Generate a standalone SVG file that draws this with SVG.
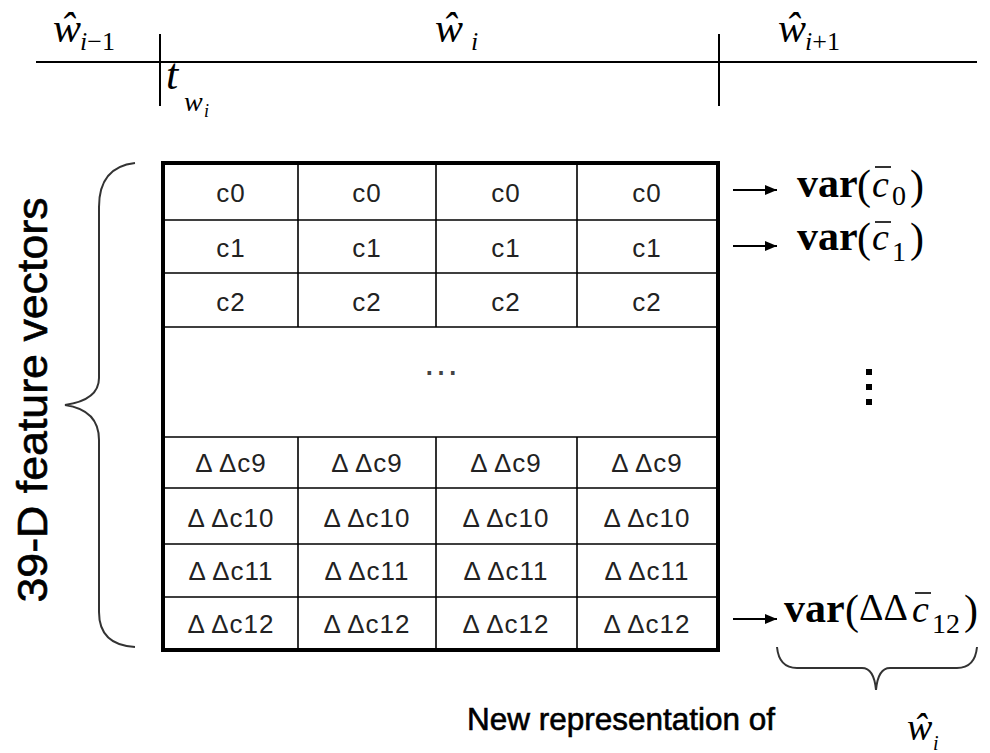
<svg xmlns="http://www.w3.org/2000/svg" width="990" height="753" viewBox="0 0 990 753">
<defs>
<marker id="ah" viewBox="0 0 12 10" refX="12" refY="5" markerWidth="12" markerHeight="10" markerUnits="userSpaceOnUse" orient="auto">
<path d="M0,0 L12,5 L0,10 Z" fill="#000"/>
</marker>
<style>
.ln{stroke:#000;stroke-width:2;fill:none}
.grid{stroke:#000;stroke-width:1.6;fill:none}
.brace{stroke:#333;stroke-width:2;fill:none}
.cell{font-family:"Liberation Sans",Arial,sans-serif;font-size:26px;text-anchor:middle;fill:#222;letter-spacing:1px}
.mi{font-family:"Liberation Serif","Times New Roman",serif;font-style:italic;fill:#000}
.mr{font-family:"Liberation Serif","Times New Roman",serif;fill:#000}
.mb{font-family:"Liberation Serif","Times New Roman",serif;font-weight:bold;fill:#000}
.lab{font-family:"Liberation Sans",Arial,sans-serif;fill:#000;stroke:#000;stroke-width:0.6}
</style>
</defs>
<rect width="990" height="753" fill="#fff"/>

<g id="timeline">
<line class="ln" x1="36" y1="62" x2="977" y2="62"/>
<line class="ln" x1="160" y1="34" x2="160" y2="106"/>
<line class="ln" x1="719" y1="34" x2="719" y2="106"/>
</g>

<g id="label-w-prev">
<text class="mi" x="53" y="42" font-size="42">ŵ</text>
<text x="80" y="50" font-size="26"><tspan class="mi">i</tspan><tspan class="mr">−1</tspan></text>
</g>
<g id="label-w-cur">
<text class="mi" x="435" y="42" font-size="42">ŵ</text>
<text class="mi" x="471" y="50" font-size="26">i</text>
</g>
<g id="label-w-next">
<text class="mi" x="778" y="42" font-size="42">ŵ</text>
<text x="805" y="50" font-size="26"><tspan class="mi">i</tspan><tspan class="mr">+1</tspan></text>
</g>
<g id="label-t">
<text class="mi" x="166" y="89" font-size="44">t</text>
<text class="mi" x="184" y="111" font-size="28">w</text>
<text class="mi" x="204" y="117" font-size="18">i</text>
</g>

<g id="feature-label">
<path class="brace" d="M135,163 Q99,167 99,207 L99,378 Q99,400 65,405 Q99,410 99,440 L99,612 Q99,645 135,647"/>
<text class="lab" font-size="42" text-anchor="middle" textLength="405" lengthAdjust="spacingAndGlyphs" transform="translate(47,400) rotate(-90)">39-D feature vectors</text>
</g>

<g id="table">
<rect x="163" y="163" width="555" height="487" fill="#fff" stroke="#000" stroke-width="4"/>
<path class="grid" d="M163,220H718M163,273H718M163,327H718M163,437H718M163,488H718M163,544H718M163,597H718"/>
<path class="grid" d="M298,163V327M436,163V327M577,163V327M298,437V650M436,437V650M577,437V650"/>
<text class="cell" x="231" y="202">c0</text><text class="cell" x="367" y="202">c0</text><text class="cell" x="506" y="202">c0</text><text class="cell" x="647" y="202">c0</text>
<text class="cell" x="231" y="257">c1</text><text class="cell" x="367" y="257">c1</text><text class="cell" x="506" y="257">c1</text><text class="cell" x="647" y="257">c1</text>
<text class="cell" x="231" y="311">c2</text><text class="cell" x="367" y="311">c2</text><text class="cell" x="506" y="311">c2</text><text class="cell" x="647" y="311">c2</text>
<text x="441" y="375" font-family="Liberation Sans,Arial,sans-serif" font-size="37" fill="#444" text-anchor="middle">…</text>
<text class="cell" x="231" y="472">Δ Δc9</text><text class="cell" x="367" y="472">Δ Δc9</text><text class="cell" x="506" y="472">Δ Δc9</text><text class="cell" x="647" y="472">Δ Δc9</text>
<text class="cell" x="231" y="527">Δ Δc10</text><text class="cell" x="367" y="527">Δ Δc10</text><text class="cell" x="506" y="527">Δ Δc10</text><text class="cell" x="647" y="527">Δ Δc10</text>
<text class="cell" x="231" y="580">Δ Δc11</text><text class="cell" x="367" y="580">Δ Δc11</text><text class="cell" x="506" y="580">Δ Δc11</text><text class="cell" x="647" y="580">Δ Δc11</text>
<text class="cell" x="231" y="633">Δ Δc12</text><text class="cell" x="367" y="633">Δ Δc12</text><text class="cell" x="506" y="633">Δ Δc12</text><text class="cell" x="647" y="633">Δ Δc12</text>
</g>

<g id="connectors">
<line class="ln" x1="733" y1="190" x2="777" y2="190" marker-end="url(#ah)"/>
<line class="ln" x1="733" y1="246" x2="777" y2="246" marker-end="url(#ah)"/>
<line class="ln" x1="733" y1="619" x2="777" y2="619" marker-end="url(#ah)"/>
</g>

<g id="var-c0">
<text class="mb" x="797" y="197" font-size="42">var</text>
<text class="mr" x="857" y="199" font-size="42">(</text>
<text class="mi" x="872" y="197" font-size="38">c</text>
<line x1="875" y1="167" x2="891" y2="167" stroke="#000" stroke-width="1.6"/>
<text class="mr" x="892" y="205" font-size="28">0</text>
<text class="mr" x="910" y="199" font-size="42">)</text>
</g>
<g id="var-c1">
<text class="mb" x="797" y="250" font-size="42">var</text>
<text class="mr" x="857" y="252" font-size="42">(</text>
<text class="mi" x="872" y="250" font-size="38">c</text>
<line x1="875" y1="222" x2="891" y2="222" stroke="#000" stroke-width="1.6"/>
<text class="mr" x="892" y="261" font-size="28">1</text>
<text class="mr" x="910" y="252" font-size="42">)</text>
</g>
<g id="vdots">
<rect x="866" y="369" width="6" height="6" fill="#000"/>
<rect x="866" y="384" width="6" height="6" fill="#000"/>
<rect x="866" y="399" width="6" height="6" fill="#000"/>
</g>
<g id="var-c12">
<text class="mb" x="784" y="622" font-size="42">var</text>
<text class="mr" x="845" y="624" font-size="42">(</text>
<text class="mr" x="859" y="620" font-size="38">ΔΔ</text>
<text class="mi" x="912" y="622" font-size="38">c</text>
<line x1="915" y1="593" x2="931" y2="593" stroke="#000" stroke-width="1.6"/>
<text class="mr" x="932" y="633" font-size="28">12</text>
<text class="mr" x="964" y="624" font-size="42">)</text>
</g>

<g id="new-rep">
<path class="brace" d="M777,647 Q779,668 797,668 L862,668 Q874,668 876,690 Q878,668 890,668 L957,668 Q975,668 977,647"/>
<text class="lab" x="467" y="730" font-size="31.5" textLength="308" lengthAdjust="spacingAndGlyphs">New representation of</text>
<text class="mi" x="907" y="740" font-size="38">ŵ</text>
<text class="mi" x="933" y="750" font-size="20">i</text>
</g>
</svg>
